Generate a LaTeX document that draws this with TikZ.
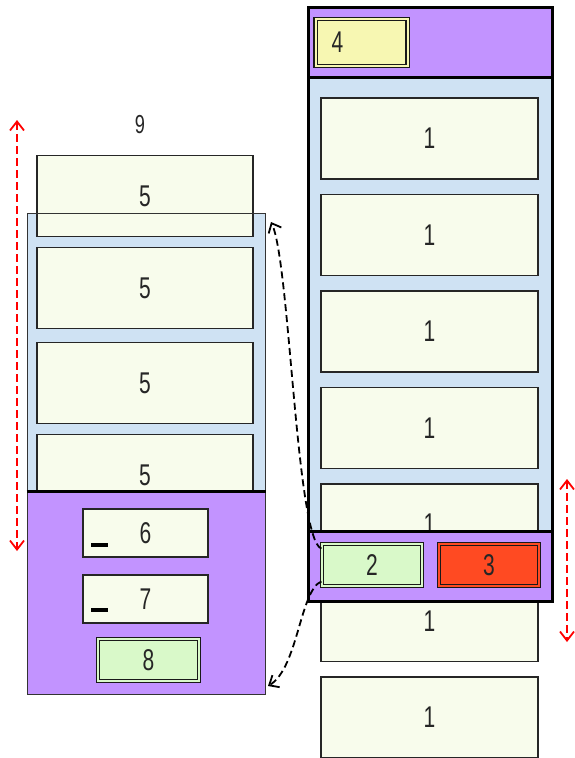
\documentclass[tikz,border=0pt]{standalone}
\usepackage{fontspec}
\setmainfont{Liberation Sans}
\usetikzlibrary{arrows.meta}
\definecolor{cellfill}{HTML}{F8FCEC}
\definecolor{paneblue}{HTML}{CFE2F3}
\definecolor{panepurple}{HTML}{C293FF}
\definecolor{btngreen}{HTML}{D9F9C9}
\definecolor{btnyellow}{HTML}{F7F7B2}
\definecolor{btnred}{HTML}{FF4A22}
\newcommand{\lbl}[1]{\scalebox{0.7}[1]{#1}}
\begin{document}
\begin{tikzpicture}[x=1pt,y=-1pt,
    lbltxt/.style={font=\fontsize{30}{30}\selectfont, text=black!85},
    cell/.style={lbltxt, draw=black!85, line width=1.6pt, fill=cellfill,
        minimum width=216pt, minimum height=81pt, inner sep=0pt},
    pane/.style={draw=black!80, line width=1pt, inner sep=0pt},
    btn/.style={lbltxt, draw=black!90, line width=1.2pt, double distance=2pt,
        minimum width=100pt, minimum height=42pt, inner sep=0pt},
    field/.style={lbltxt, draw=black!85, line width=1.6pt, fill=cellfill,
        minimum width=125pt, minimum height=48pt, inner sep=0pt},
    scroll/.style={red, line width=1.8pt, dash pattern=on 8pt off 4pt,
        {Straight Barb[length=9pt,width=14pt]}-{Straight Barb[length=9pt,width=14pt]}},
    link/.style={black, line width=1.8pt, dash pattern=on 7pt off 4pt,
        -{Straight Barb[length=8pt,width=14pt]}}]
    \useasboundingbox (0,0) rectangle (575,758);

    % left column
    \node[pane, draw=none, fill=paneblue, minimum width=238pt, minimum height=279pt] (lpane) at (146,352.5) {};
    \node[cell] (l0) at (145,196) {\lbl{5}};
    \node[cell] (l1) at (145,288) {\lbl{5}};
    \node[cell] (l2) at (145,383) {\lbl{5}};
    \node[cell] (l3) at (145,475) {\lbl{5}};
    \node[pane, minimum width=238pt, minimum height=279pt] at (lpane) {};
    \node[pane, fill=panepurple, minimum width=238pt, minimum height=202pt] (lbar) at (146,593) {};
    \draw[line width=2.5pt] (lbar.north west) -- (lbar.north east);
    \node[field] (f6) at (145.5,533) {\lbl{6}};
    \node[field] (f7) at (145.5,599) {\lbl{7}};
    \draw[line width=4pt] ([xshift=9pt,yshift=13pt]f6.south west) -- +(17,0);
    \draw[line width=4pt] ([xshift=9pt,yshift=14pt]f7.south west) -- +(17,0);
    \node[btn, double=btngreen, fill=btngreen, minimum width=101pt] (b8) at (148.5,660) {\lbl{8}};
    \node[lbltxt, font=\fontsize{26}{26}\selectfont] (top9) at (140,125) {\lbl{9}};

    % right column
    \node[pane, draw=none, fill=paneblue, minimum width=243pt, minimum height=455pt] (rpane) at (430.5,304.5) {};
    \foreach \i in {0,...,6}
        \node[cell, minimum width=217pt] (r\i) at (429.5,138.5+96.5*\i) {\lbl{1}};
    \node[pane, fill=panepurple, minimum width=243pt, minimum height=69pt] (rhead) at (430.5,42.5) {};
    \node[pane, fill=panepurple, minimum width=243pt, minimum height=69pt] (rbar) at (430.5,566.5) {};
    \draw[line width=3pt] (rhead.north west) rectangle (rbar.south east);
    \draw[line width=3pt] (rhead.south west) -- (rhead.south east);
    \draw[line width=3pt] (rbar.north west) -- (rbar.north east);
    \node[btn, double=btnyellow, fill=btnyellow, minimum width=91pt, minimum height=47pt,
        text width=60pt, inner xsep=16pt, align=left] (b4) at (361.5,42.5) {\lbl{4}};
    \node[btn, double=btngreen, fill=btngreen] (b2) at (372,565) {\lbl{2}};
    \node[btn, double=btnred, fill=btnred] (b3) at (489,565) {\lbl{3}};

    % scroll arrows
    \coordinate (lsup) at (17,120);
    \coordinate (lsdn) at (17,551);
    \coordinate (rsup) at (567,479);
    \coordinate (rsdn) at (567,642);
    \draw[scroll] (lsup) -- (lsdn);
    \draw[scroll] (rsup) -- (rsdn);

    % links
    \coordinate (toppane) at (271,222);
    \coordinate (botbar) at (268,686);
    \draw[link] (b2.162) .. controls (296,540) and (290,262) .. (toppane);
    \draw[link] (b2.198) .. controls (300,590) and (298,668) .. (botbar);
\end{tikzpicture}
\end{document}
